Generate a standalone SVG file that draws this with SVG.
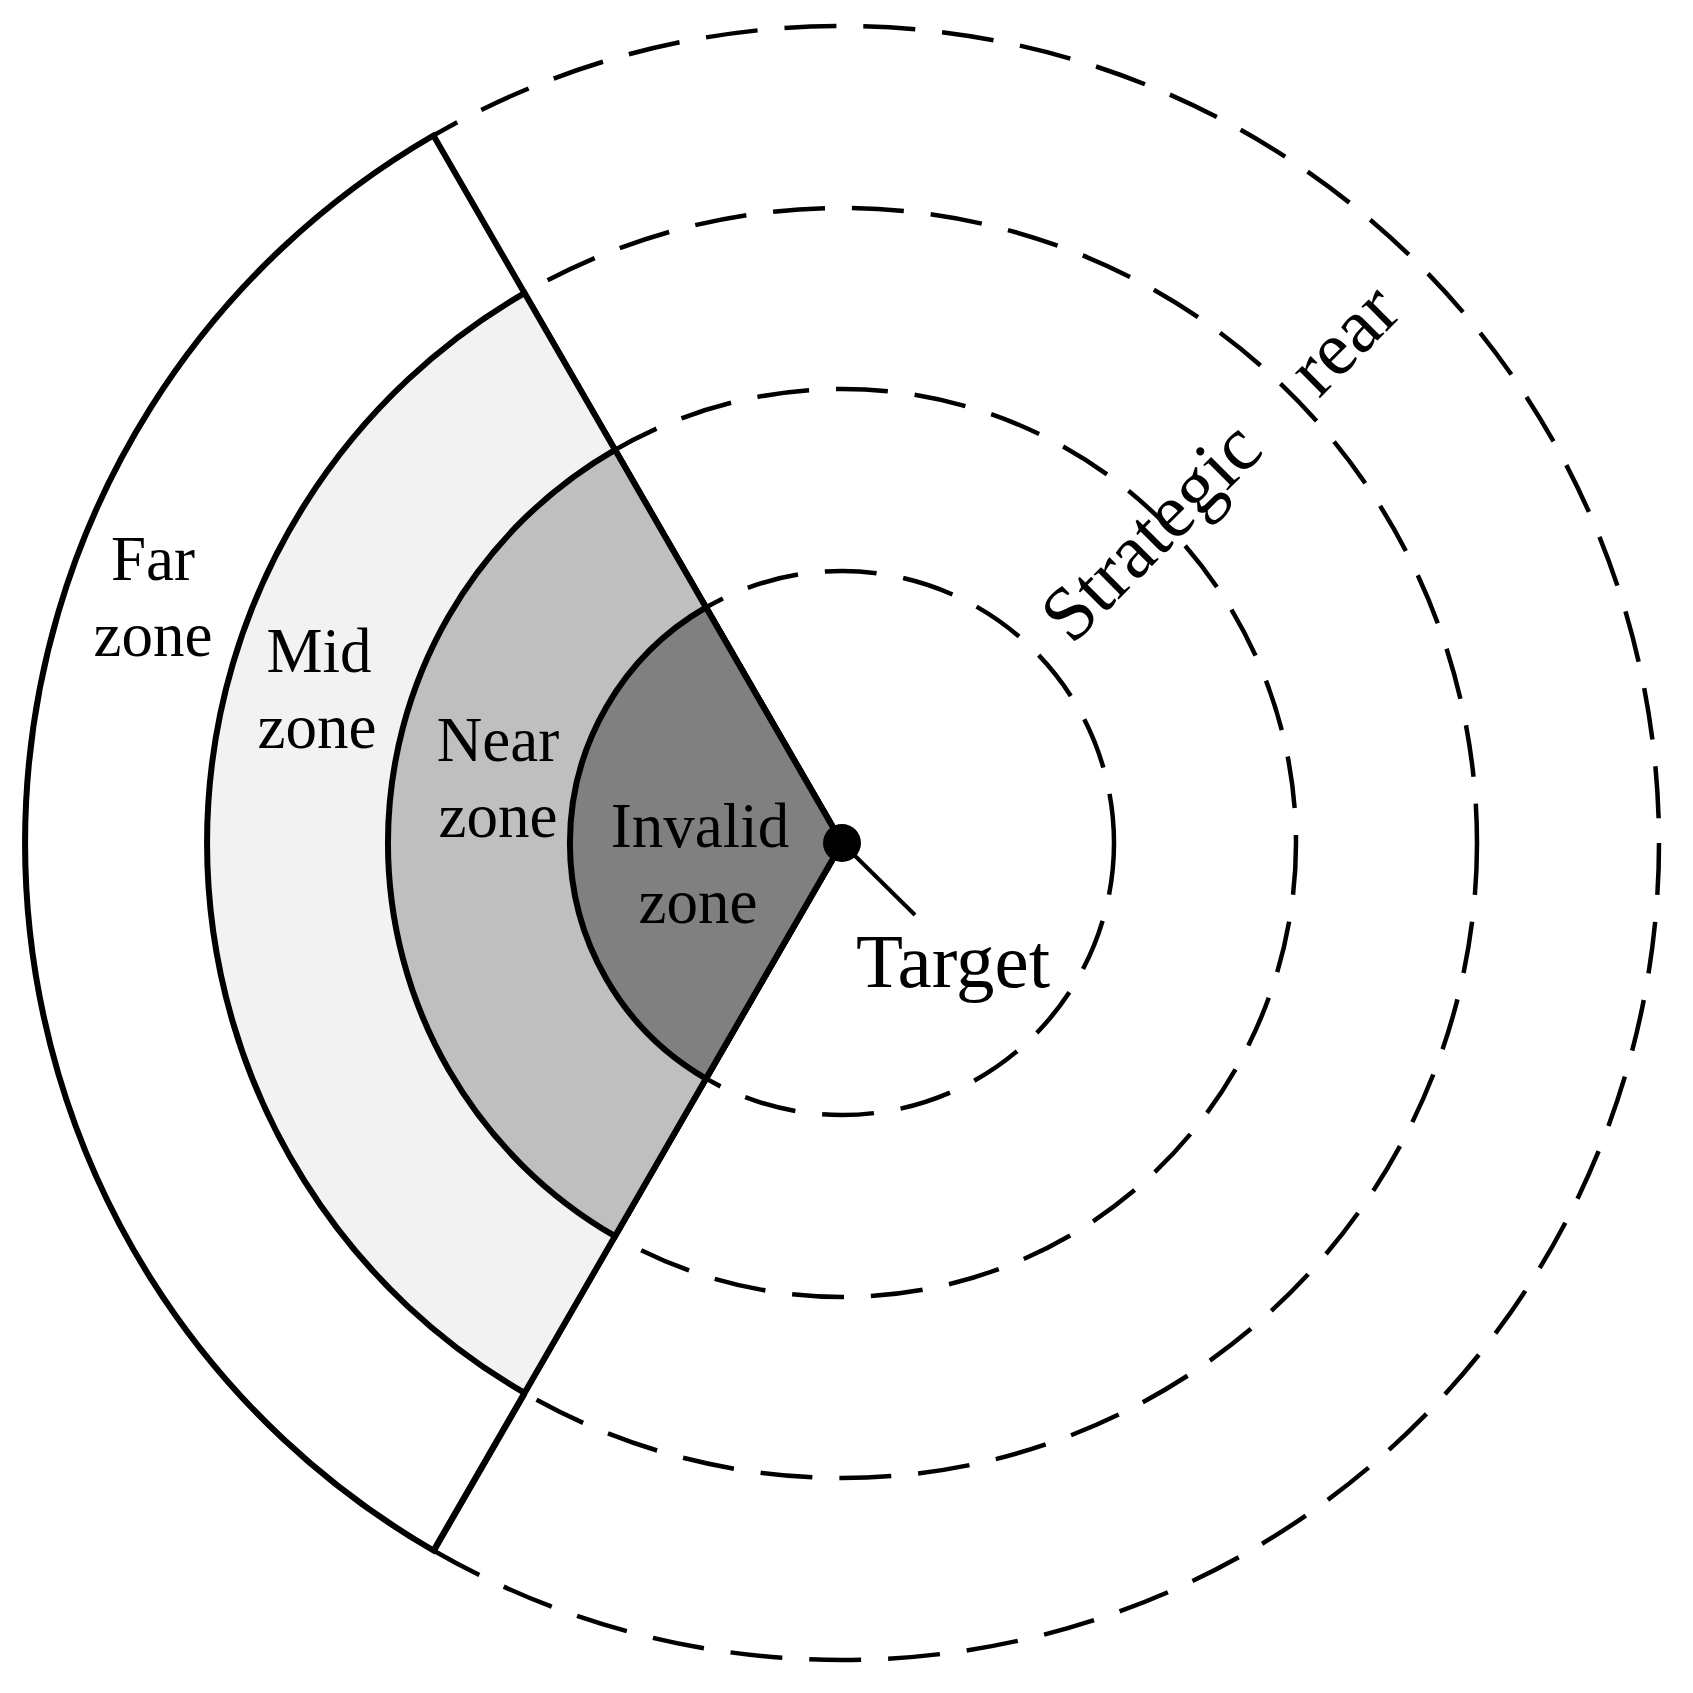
<svg xmlns="http://www.w3.org/2000/svg" width="1693" height="1693" viewBox="0 0 1693 1693">
<style>
.dash{fill:none;stroke:#000;stroke-width:4.5;stroke-dasharray:52 27}
.zone{stroke:#000;stroke-width:6;stroke-linejoin:miter}
.lbl{font-family:"Liberation Serif","Times New Roman",serif;font-size:63px;fill:#000;text-anchor:middle}
.big{font-family:"Liberation Serif","Times New Roman",serif;font-size:77px;fill:#000}
</style>
<rect width="1693" height="1693" fill="#fff"/>
<g id="rings">
<circle class="dash" cx="842" cy="843" r="272"/>
<circle class="dash" cx="842" cy="843" r="454"/>
<circle class="dash" cx="842" cy="843" r="635"/>
<circle class="dash" cx="842" cy="843" r="817"/>
</g>
<g id="far-zone">
<path class="zone" fill="#fff" d="M842,843 L433.5,135.5 A817,817 0 0 0 433.5,1550.5 Z"/>
<text class="lbl" x="153" y="580">Far</text>
<text class="lbl" x="153" y="656">zone</text>
</g>
<g id="mid-zone">
<path class="zone" fill="#f2f2f2" d="M842,843 L524.5,293.1 A635,635 0 0 0 524.5,1392.9 Z"/>
<text class="lbl" x="319" y="672">Mid</text>
<text class="lbl" x="317" y="748">zone</text>
</g>
<g id="near-zone">
<path class="zone" fill="#bfbfbf" d="M842,843 L615,449.8 A454,454 0 0 0 615,1236.2 Z"/>
<text class="lbl" x="498" y="761">Near</text>
<text class="lbl" x="498" y="837">zone</text>
</g>
<g id="invalid-zone">
<path class="zone" fill="#808080" d="M842,843 L706,607.4 A272,272 0 0 0 706,1078.6 Z"/>
<text class="lbl" x="700" y="847">Invalid</text>
<text class="lbl" x="698" y="923">zone</text>
</g>
<g id="strategic-rear">
<text class="big" font-size="82" transform="translate(1072,646) rotate(-45)"><tspan x="0" y="0">Strategic</tspan><tspan x="349" y="0">rear</tspan></text>
</g>
<g id="connectors">
<line x1="842" y1="843" x2="915" y2="915" stroke="#000" stroke-width="4"/>
<line x1="526" y1="1394" x2="436" y2="1550" stroke="#000" stroke-width="3"/>
</g>
<g id="target">
<circle cx="842" cy="843" r="19" fill="#000"/>
<text class="big" x="953" y="987" text-anchor="middle">Target</text>
</g>
</svg>
